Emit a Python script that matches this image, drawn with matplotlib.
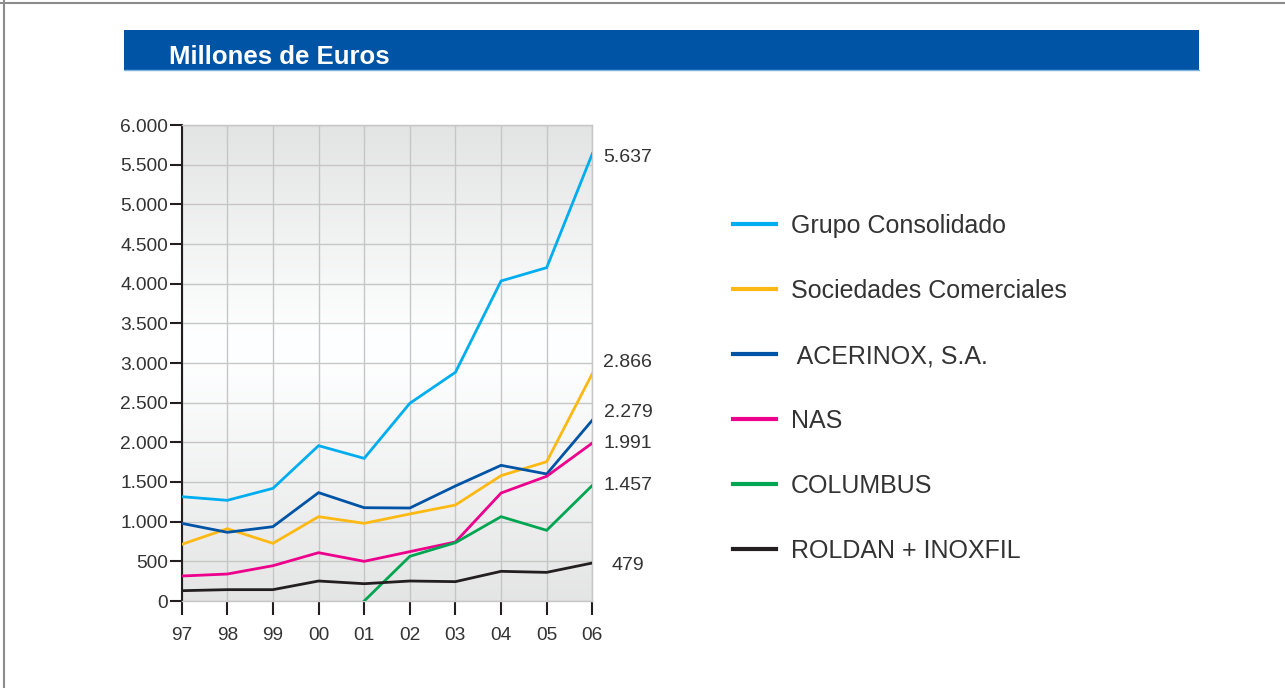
import numpy as np
import matplotlib.pyplot as plt
from matplotlib.patches import Rectangle
from matplotlib.lines import Line2D

plt.rcParams['font.family'] = ['Liberation Sans', 'DejaVu Sans']

years = ["97", "98", "99", "00", "01", "02", "03", "04", "05", "06"]

grupo = [1315, 1269, 1420, 1958, 1798, 2492, 2883, 4034, 4202, 5637]
comerciales = [714, 911, 727, 1063, 979, 1097, 1210, 1580, 1756, 2866]
acerinox = [979, 866, 937, 1366, 1176, 1172, 1450, 1710, 1601, 2279]
nas = [315, 340, 445, 609, 500, 622, 744, 1361, 1572, 1991]
columbus = [None, None, None, None, 0, 563, 735, 1063, 891, 1457]
roldan = [130, 143, 143, 252, 218, 252, 244, 374, 361, 479]

series_names = ["Grupo Consolidado", "Sociedades Comerciales", " ACERINOX, S.A.",
                "NAS", "COLUMBUS", "ROLDAN + INOXFIL"]
series_values = [grupo, comerciales, acerinox, nas, columbus, roldan]
colors = ["#00aeef", "#fdb913", "#0054a6", "#ec008c", "#00a651", "#231f20"]

# where the end value labels sit (y in data units)
label_y = [5590, 3010, 2380, 1990, 1450, 445]

fig = plt.figure(figsize=(12.85, 6.88), dpi=100)

# frame lines (top and left)
fig.add_artist(Line2D([0, 1], [1 - 2.5 / 688, 1 - 2.5 / 688], color="#8c8c8c", lw=1.5))
fig.add_artist(Line2D([3.5 / 1285, 3.5 / 1285], [0, 1], color="#8c8c8c", lw=1.5))

# title bar
fig.add_artist(Rectangle((124 / 1285, 1 - 70 / 688), 1075 / 1285, 40 / 688,
                         transform=fig.transFigure, facecolor="#0054a6",
                         edgecolor="none"))
fig.add_artist(Line2D([124 / 1285, 1199 / 1285], [1 - 70 / 688, 1 - 70 / 688],
                      color="#7fb2e0", lw=1))
fig.text(169 / 1285, 1 - 63.5 / 688, "Millones de Euros", color="white",
         fontsize=18.5, fontweight="bold", va="baseline", ha="left")

ax = fig.add_axes([181.7 / 1285, 1 - 601 / 688, 410.6 / 1285, 476 / 688])
x = np.arange(len(years))

# background gradient: gray at top and bottom, white in the middle
yy = np.linspace(6000, 0, 300)
shade = np.interp(yy, [0, 3000, 3400, 6000], [0.9, 1.0, 1.0, 0.895])
grad = np.stack([shade * 0.995, shade * 0.997, shade], axis=1)[:, None, :]
ax.imshow(np.clip(grad, 0, 1), extent=[0, 9, 0, 6000], aspect="auto", zorder=0,
          interpolation="bilinear")

for name, vals, c in zip(series_names, series_values, colors):
    v = np.array([np.nan if val is None else val for val in vals], dtype=float)
    ax.plot(x, v, color=c, lw=2.0, label=name, zorder=3, solid_joinstyle="miter")

for vals, ly in zip(series_values, label_y):
    ax.text(9.78, ly, f"{vals[-1]:,}".replace(",", "."), ha="center", va="center",
            fontsize=14, color="#333333", clip_on=False)

ax.set_xlim(0, 9)
ax.set_ylim(0, 6000)
ax.set_xticks(x)
ax.set_xticklabels(years)
ax.set_yticks(np.arange(0, 6001, 500))
ax.set_yticklabels([f"{v:,}".replace(",", ".") for v in range(0, 6001, 500)])
ax.grid(True, color="#c6c6c6", lw=1.0, zorder=1)
ax.set_axisbelow(True)

for s in ["top", "right", "bottom"]:
    ax.spines[s].set_color("#c6c6c6")
    ax.spines[s].set_linewidth(1.0)
ax.spines["left"].set_color("#231f20")
ax.spines["left"].set_linewidth(1.5)

ax.tick_params(axis="y", direction="out", length=8.5, width=1.5, color="#231f20",
               labelsize=13.8, labelcolor="#333333", pad=1.5)
ax.tick_params(axis="x", direction="out", length=10, width=1.5, color="#231f20",
               labelsize=13.8, labelcolor="#333333", pad=8.5)

leg = fig.legend(loc="upper left", bbox_to_anchor=(723 / 1285, 1 - 204 / 688),
                 frameon=False, fontsize=18, handlelength=1.72, handletextpad=0.6,
                 labelspacing=1.64, borderaxespad=0, labelcolor="#333333")
for h in leg.get_lines():
    h.set_linewidth(3.0)

fig.savefig("out.png", dpi=100)
